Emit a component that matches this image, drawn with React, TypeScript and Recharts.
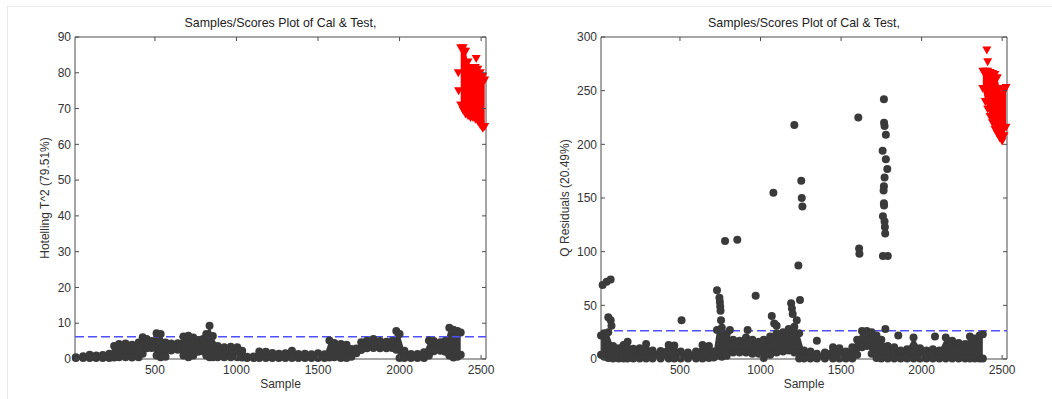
import React from 'react';
import {
  ComposedChart,
  XAxis,
  YAxis,
  Scatter,
  Area,
  ReferenceLine,
  ReferenceArea,
  Label,
} from 'recharts';

const FONT = '"Liberation Sans", Arial, Helvetica, sans-serif';
const INK = '#3a3a3a';
const AXIS = '#4d4d4d';
const TEST_RED = '#ff0000';
const LIMIT_BLUE = '#4f4fff';

const sampleTicks = [500, 1000, 1500, 2000, 2500];
const t2Ticks = [0, 10, 20, 30, 40, 50, 60, 70, 80, 90];
const qTicks = [0, 50, 100, 150, 200, 250, 300];

// Hotelling T^2 - calibration band (upper / lower edge of the marker cloud)
const t2CalX = [
  15, 60, 100, 140, 180, 220, 250, 280, 320, 360, 400, 425, 450, 480, 510, 535, 565, 600, 640, 675,
  705, 735, 765, 795, 815, 835, 855, 885, 925, 965, 1005, 1035, 1065, 1105, 1140, 1180, 1220, 1260,
  1300, 1340, 1380, 1420, 1460, 1500, 1540, 1570, 1600, 1640, 1675, 1705, 1735, 1765, 1800, 1840,
  1880, 1920, 1955, 1980, 2000, 2030, 2070, 2110, 2150, 2180, 2210, 2250, 2280, 2305, 2330, 2355, 2375,
];
const t2CalHigh = [
  0.5, 0.8, 1.2, 1.0, 1.1, 1.5, 3.6, 4.2, 4.3, 4.0, 4.6, 6.1, 5.6, 5.0, 7.2, 7.0, 4.6, 4.3, 4.4, 6.3,
  6.5, 6.0, 5.3, 5.6, 7.0, 9.3, 6.4, 3.6, 3.3, 3.4, 3.3, 2.3, 0.6, 0.7, 2.1, 2.0, 1.7, 1.5,
  1.6, 2.3, 1.4, 1.5, 1.3, 1.6, 1.3, 5.2, 4.5, 4.2, 4.0, 2.8, 2.9, 4.7, 5.1, 5.6,
  5.0, 4.8, 5.0, 7.8, 7.0, 2.3, 1.4, 1.4, 1.9, 5.2, 5.0, 4.7, 5.0, 8.7, 8.2, 7.8, 7.4,
];
const t2CalLow = [
  0.3, 0.3, 0.3, 0.3, 0.3, 0.3, 0.4, 0.5, 0.5, 0.4, 0.5, 1.5, 3.0, 3.1, 1.0, 0.5, 0.6, 2.4, 2.6, 1.0,
  0.5, 1.0, 2.0, 2.2, 1.0, 0.5, 0.5, 0.5, 0.5, 0.5, 0.5, 0.4, 0.3, 0.3, 0.3, 0.3, 0.3, 0.3,
  0.3, 0.3, 0.3, 0.3, 0.3, 0.3, 0.3, 0.4, 0.5, 0.3, 0.3, 0.6, 1.6, 2.5, 3.0, 3.1,
  3.0, 3.0, 3.1, 2.6, 0.3, 0.3, 0.3, 0.3, 0.3, 1.0, 2.2, 2.3, 2.0, 1.0, 0.4, 0.6, 1.2,
];
const t2CalOutliers: [number, number][] = [];

// Hotelling T^2 - test samples
const t2TestX = [2375, 2390, 2405, 2420, 2435, 2450, 2465, 2480, 2495, 2510, 2522];
const t2TestHigh = [87, 87, 86, 83, 81.5, 81.5, 81.5, 81, 80, 79, 78];
const t2TestLow = [71, 69.5, 68.5, 68, 67.5, 67.5, 67, 66.5, 65.5, 64.5, 65];
const t2TestExtra: [number, number][] = [[2470, 84], [2395, 86], [2360, 80], [2362, 75]];
const t2Limit = 6.2;

// Q residuals - calibration band
const qCalX = [
  10, 30, 55, 85, 120, 150, 175, 210, 250, 290, 330, 380, 430, 465, 505, 550, 600, 640, 680, 710,
  730, 760, 790, 830, 870, 910, 950, 990, 1020, 1060, 1100, 1140, 1175, 1210, 1240, 1270, 1310, 1350,
  1400, 1450, 1490, 1530, 1570, 1600, 1630, 1660, 1690, 1720, 1750, 1790, 1830, 1870, 1910, 1950,
  1990, 2030, 2070, 2110, 2150, 2190, 2230, 2270, 2300, 2330, 2360, 2380,
];
const qCalHigh = [
  22, 24, 25, 12, 10, 13, 16, 9.5, 10, 14, 8, 7.5, 13, 12.5, 7, 6, 7, 13, 12, 7,
  27, 29, 23, 18, 17, 20, 18, 16, 18, 21, 24, 25, 28, 30, 24, 8, 7, 5,
  6, 11, 10, 7, 11, 18, 26, 26, 25, 22, 18, 12, 11, 8, 9, 20,
  10, 8, 9, 8, 20, 17, 15, 14, 21, 19, 22, 23,
];
const qCalLow = [
  4, 2, 1, 0.5, 0.5, 0.5, 0.5, 0.5, 0.5, 0.5, 0.5, 0.5, 0.5, 0.5, 0.5, 0.5, 0.5, 0.5, 1, 1.5,
  3, 2, 3, 6, 6, 6, 5, 5, 1, 4, 6, 7, 8, 6, 0.5, 0.5, 0.5, 0.5,
  0.5, 0.5, 0.5, 0.5, 0.5, 4, 11, 12, 5, 1, 0.5, 0.5, 0.5, 0.5, 0.5, 0.5,
  0.5, 0.5, 0.5, 0.5, 0.5, 0.5, 0.5, 0.5, 0.5, 0.5, 0.5, 0.5,
];
const qCalOutliers: [number, number][] = [
  [20, 69], [45, 72], [70, 74], [55, 39], [70, 36], [75, 31], [510, 36],
  [730, 64], [745, 57], [748, 53], [750, 49], [752, 45], [755, 36], [780, 110], [810, 27],
  [856, 111], [920, 27], [970, 59], [1070, 40], [1080, 155], [1085, 33], [1100, 31],
  [1190, 52], [1195, 47], [1200, 42], [1210, 218], [1225, 36], [1235, 87], [1245, 55],
  [1253, 166], [1256, 150], [1260, 142], [1350, 17], [1607, 225], [1612, 103], [1614, 98],
  [1766, 242], [1767, 220], [1770, 217], [1778, 209], [1758, 194], [1778, 186], [1787, 177],
  [1770, 169], [1766, 161], [1764, 157], [1766, 145], [1767, 143], [1760, 133], [1770, 128],
  [1772, 123], [1774, 117], [1760, 96], [1790, 96], [1775, 28], [1855, 22], [2083, 21],
];

// Q residuals - test samples
const qTestX = [2380, 2395, 2410, 2425, 2440, 2455, 2470, 2485, 2500, 2512, 2524];
const qTestHigh = [268, 268, 268, 267, 266, 265, 262, 252, 247, 250, 253];
const qTestLow = [252, 240, 233, 226, 220, 214, 210, 206, 203, 208, 216];
const qTestExtra: [number, number][] = [[2405, 288], [2410, 277]];
const qLimit = 26.4;

const X_DOMAIN: [number, number] = [10, 2530];
const PLOT_TOP = 37;
const PLOT_BOTTOM = 359;
const CHART_H = 399;
const X_AXIS_H = 34;

const Dot = (p: any) => <circle cx={p.cx} cy={p.cy} r={4} fill={INK} />;
const DownTriangle = (p: any) => (
  <polygon
    points={`${p.cx - 4.5},${p.cy - 3.5} ${p.cx + 4.5},${p.cy - 3.5} ${p.cx},${p.cy + 4.5}`}
    fill={TEST_RED}
  />
);

const makeXTick = (top: number, bottom: number) => (p: any) => (
  <g>
    <line x1={p.x} x2={p.x} y1={bottom} y2={bottom - 4} stroke={AXIS} />
    <line x1={p.x} x2={p.x} y1={top} y2={top + 4} stroke={AXIS} />
    <text x={p.x} y={p.y} dy="0.71em" textAnchor="middle" fontSize={12} fill="#333" fontFamily={FONT}>
      {p.payload.value}
    </text>
  </g>
);

const makeYTick = (left: number, right: number) => (p: any) => (
  <g>
    <line x1={left} x2={left + 4} y1={p.y} y2={p.y} stroke={AXIS} />
    <line x1={right} x2={right - 4} y1={p.y} y2={p.y} stroke={AXIS} />
    <text x={p.x} y={p.y} dy="0.355em" textAnchor="end" fontSize={12} fill="#333" fontFamily={FONT}>
      {p.payload.value}
    </text>
  </g>
);

type PanelProps = {
  left: number;
  width: number;
  plotLeft: number;
  plotRight: number;
  yAxisWidth: number;
  yMax: number;
  yTicks: number[];
  yLabel: string;
  limit: number;
  calX: number[];
  calHigh: number[];
  calLow: number[];
  calOutliers: [number, number][];
  testX: number[];
  testHigh: number[];
  testLow: number[];
  testExtra: [number, number][];
};

const Panel: React.FC<PanelProps> = ({
  left,
  width,
  plotLeft,
  plotRight,
  yAxisWidth,
  yMax,
  yTicks,
  yLabel,
  limit,
  calX,
  calHigh,
  calLow,
  calOutliers,
  testX,
  testHigh,
  testLow,
  testExtra,
}) => {
  const rows = [
    ...calX.map((x, i) => ({ x, cal: [calLow[i], calHigh[i]] })),
    ...testX.map((x, i) => ({ x, test: [testLow[i], testHigh[i]] })),
  ];
  const calPoints = [
    ...calX.map((x, i) => ({ x, y: calHigh[i] })),
    ...calX.map((x, i) => ({ x, y: calLow[i] })),
    ...calOutliers.map(([x, y]) => ({ x, y })),
  ];
  const testPoints = [
    ...testX.map((x, i) => ({ x, y: testHigh[i] })),
    ...testX.map((x, i) => ({ x, y: testLow[i] })),
    ...testExtra.map(([x, y]) => ({ x, y })),
  ];

  return (
    <div style={{ position: 'absolute', left, top: 0, width, height: CHART_H }}>
      <div
        style={{
          position: 'absolute',
          left: plotLeft - 150,
          width: plotRight - plotLeft + 300,
          top: 16,
          textAlign: 'center',
          fontSize: 12.4,
          lineHeight: '14px',
          color: '#222',
          fontFamily: FONT,
        }}
      >
        Samples/Scores Plot of Cal &amp; Test,
      </div>
      <ComposedChart
        width={width}
        height={CHART_H}
        data={rows}
        margin={{
          top: PLOT_TOP,
          right: width - plotRight,
          left: plotLeft - yAxisWidth,
          bottom: CHART_H - PLOT_BOTTOM - X_AXIS_H,
        }}
      >
        <XAxis
          type="number"
          dataKey="x"
          domain={X_DOMAIN}
          ticks={sampleTicks}
          interval={0}
          height={X_AXIS_H}
          axisLine={false}
          tickLine={false}
          tickSize={0}
          tickMargin={6}
          tick={makeXTick(PLOT_TOP, PLOT_BOTTOM)}
        >
          <Label value="Sample" position="insideBottom" offset={5} fontSize={12} fill="#333" fontFamily={FONT} />
        </XAxis>
        <YAxis
          type="number"
          domain={[0, yMax]}
          ticks={yTicks}
          interval={0}
          width={yAxisWidth}
          axisLine={false}
          tickLine={false}
          tickSize={0}
          tickMargin={4}
          tick={makeYTick(plotLeft, plotRight)}
        >
          <Label value={yLabel} angle={-90} position="center" fontSize={12} fill="#333" fontFamily={FONT} />
        </YAxis>
        <Area
          type="linear"
          dataKey="cal"
          stroke="none"
          fill={INK}
          fillOpacity={1}
          isAnimationActive={false}
        />
        <Scatter data={calPoints} dataKey="y" shape={Dot} isAnimationActive={false} />
        <Area
          type="linear"
          dataKey="test"
          stroke="none"
          fill={TEST_RED}
          fillOpacity={1}
          isAnimationActive={false}
        />
        <Scatter data={testPoints} dataKey="y" shape={DownTriangle} isAnimationActive={false} />
        <ReferenceLine y={limit} stroke={LIMIT_BLUE} strokeWidth={1.5} strokeDasharray="9 4" />
        <ReferenceArea
          x1={X_DOMAIN[0]}
          x2={X_DOMAIN[1]}
          y1={0}
          y2={yMax}
          fill="none"
          fillOpacity={0}
          stroke={AXIS}
          strokeWidth={1}
        />
      </ComposedChart>
    </div>
  );
};

export default function App() {
  return (
    <div
      style={{
        position: 'absolute',
        left: 0,
        top: 0,
        width: 1052,
        height: 399,
        background: '#fff',
        overflow: 'hidden',
        fontFamily: FONT,
      }}
    >
      <div
        style={{
          position: 'absolute',
          left: 7,
          top: 6,
          right: 0,
          bottom: 0,
          borderTop: '1px solid #e9e9e9',
          borderLeft: '1px solid #e9e9e9',
        }}
      />
      <Panel
        left={0}
        width={520}
        plotLeft={75}
        plotRight={486}
        yAxisWidth={60}
        yMax={90}
        yTicks={t2Ticks}
        yLabel="Hotelling T^2 (79.51%)"
        limit={t2Limit}
        calX={t2CalX}
        calHigh={t2CalHigh}
        calLow={t2CalLow}
        calOutliers={t2CalOutliers}
        testX={t2TestX}
        testHigh={t2TestHigh}
        testLow={t2TestLow}
        testExtra={t2TestExtra}
      />
      <Panel
        left={520}
        width={532}
        plotLeft={81}
        plotRight={487}
        yAxisWidth={72}
        yMax={300}
        yTicks={qTicks}
        yLabel="Q Residuals (20.49%)"
        limit={qLimit}
        calX={qCalX}
        calHigh={qCalHigh}
        calLow={qCalLow}
        calOutliers={qCalOutliers}
        testX={qTestX}
        testHigh={qTestHigh}
        testLow={qTestLow}
        testExtra={qTestExtra}
      />
    </div>
  );
}
